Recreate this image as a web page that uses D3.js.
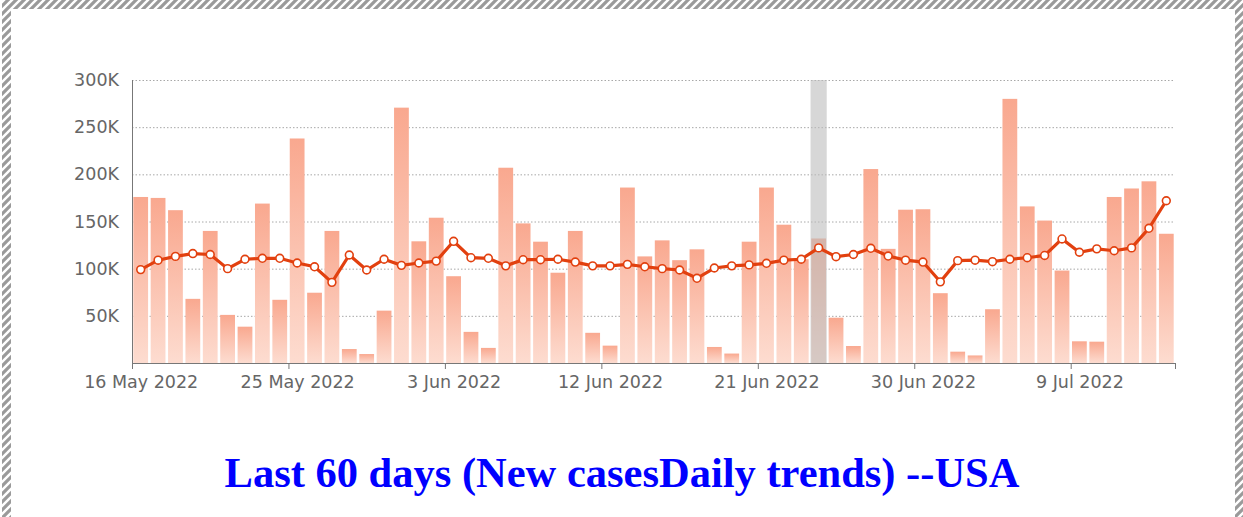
<!DOCTYPE html>
<html>
<head>
<meta charset="utf-8">
<script src="https://cdn.jsdelivr.net/npm/d3@7"></script>
<style>
  body { margin: 0; background: #fff; }
  svg { display: block; }
</style>
</head>
<body>
<svg id="chart" width="1243" height="517"></svg>
<script>
// 60 days, 16 May 2022 .. 14 Jul 2022
const startDay = new Date(2022, 4, 16);
const newCases = [
  176000, 175000, 162000, 68000, 140000, 51000, 38500, 169000, 67000, 238000,
  74500, 140000, 14800, 9500, 55500, 270700, 129000, 154000, 92000, 33000,
  16000, 207000, 148000, 128600, 95700, 140000, 32000, 18400, 186000, 113000,
  130000, 109000, 120500, 17000, 10000, 128600, 186000, 146600, 110000, 132000,
  48000, 18000, 205600, 121000, 162500, 163000, 74000, 12000, 8000, 57000,
  280000, 166000, 151000, 98000, 23000, 22600, 176000, 185000, 192600, 137000
];
const avgCases = [
  99000, 109000, 113000, 116000, 115000, 100000, 110000, 111000, 111000, 106000,
  102000, 85500, 114500, 98600, 110000, 103500, 106000, 108000, 129000, 111600,
  111000, 103000, 109500, 109500, 110000, 107000, 103000, 103000, 104600, 102000,
  100000, 98600, 89800, 100700, 103000, 104000, 105700, 109000, 110000, 122000,
  112700, 115000, 121600, 113400, 109000, 107000, 86000, 108500, 109000, 107400,
  110000, 111600, 114000, 131500, 117400, 121000, 119000, 122000, 142800, 172000
];
const highlightIndex = 39;
const yTicks = [50000, 100000, 150000, 200000, 250000, 300000];
const yTickLabels = ["50K", "100K", "150K", "200K", "250K", "300K"];
const xTickLabels = ["16 May 2022", "25 May 2022", "3 Jun 2022", "12 Jun 2022",
                     "21 Jun 2022", "30 Jun 2022", "9 Jul 2022"];
const title = "Last 60 days (New casesDaily trends) --USA";

const days = newCases.map((d, i) => d3.timeDay.offset(startDay, i));
const endDay = d3.timeDay.offset(startDay, newCases.length);
const xTickDates = xTickLabels.map((d, i) => d3.timeDay.offset(startDay, i * 9));

const svg = d3.select("#chart");
const defs = svg.append("defs");

// hatched frame pattern
const hatch = defs.append("pattern").attr("id", "hatch")
  .attr("patternUnits", "userSpaceOnUse").attr("width", 8).attr("height", 8);
hatch.append("rect").attr("width", 8).attr("height", 8).attr("fill", "#fff");
hatch.append("path").attr("d", "M-2,10 L10,-2 M-2,2 L2,-2 M6,10 L10,6")
  .attr("stroke", "#9a9a9a").attr("stroke-width", 3.2);

const grad = defs.append("linearGradient").attr("id", "barGrad")
  .attr("x1", 0).attr("y1", 0).attr("x2", 0).attr("y2", 1);
grad.append("stop").attr("offset", "0%").attr("stop-color", "#f9a88f");
grad.append("stop").attr("offset", "100%").attr("stop-color", "#fddcd0");

const x = d3.scaleTime().domain([startDay, endDay]).range([132, 1175]);
const y = d3.scaleLinear().domain([0, 300000]).range([363, 80]);
const band = x(days[1]) - x(days[0]);

// grid
svg.append("g").selectAll("line").data(yTicks).join("line")
  .attr("x1", 132).attr("x2", 1175)
  .attr("y1", d => y(d) + 0.5).attr("y2", d => y(d) + 0.5)
  .attr("stroke", "#a8a8a8").attr("stroke-dasharray", "1.5,2");

// bars
svg.append("g").selectAll("rect").data(newCases).join("rect")
  .attr("x", (d, i) => x(days[i]) + 1.3)
  .attr("width", band - 2.6)
  .attr("y", d => y(d))
  .attr("height", d => y(0) - y(d))
  .attr("fill", "url(#barGrad)");

// highlighted day
svg.append("rect")
  .attr("x", x(days[highlightIndex]) + 0.6)
  .attr("width", band - 1.2)
  .attr("y", y(300000))
  .attr("height", y(0) - y(300000))
  .attr("fill", "#bdbdbd").attr("opacity", 0.6);

// y axis
const yAxis = svg.append("g").attr("transform", "translate(132,0)")
  .call(d3.axisLeft(y).tickValues(yTicks).tickSize(0)
    .tickFormat((d, i) => yTickLabels[i]));
yAxis.select(".domain").attr("stroke", "#777").attr("d", "M0.5,80V363");
yAxis.selectAll("text").attr("x", -13)
  .attr("font-family", "'DejaVu Sans', sans-serif").attr("font-size", 17.5)
  .attr("fill", "#666");

// x axis
const xAxis = svg.append("g").attr("transform", "translate(0,363)")
  .call(d3.axisBottom(x).tickValues(xTickDates.concat([endDay])).tickSize(6)
    .tickFormat((d, i) => xTickLabels[i] || ""));
xAxis.select(".domain").attr("stroke", "#777").attr("d", "M132,0.5H1175.5");
xAxis.selectAll(".tick line").attr("stroke", "#777");
xAxis.selectAll("text").attr("x", band / 2).attr("y", 13)
  .attr("font-family", "'DejaVu Sans', sans-serif").attr("font-size", 17.5)
  .attr("fill", "#666");

// 7-day average line
const line = d3.line()
  .x((d, i) => x(days[i]) + band / 2)
  .y(d => y(d));
svg.append("path").datum(avgCases)
  .attr("d", line).attr("fill", "none")
  .attr("stroke", "#e2400f").attr("stroke-width", 3.2);
svg.append("g").selectAll("circle").data(avgCases).join("circle")
  .attr("cx", (d, i) => x(days[i]) + band / 2)
  .attr("cy", d => y(d))
  .attr("r", 3.9)
  .attr("fill", "#fff").attr("stroke", "#e2400f").attr("stroke-width", 1.6);

// title
svg.append("text").attr("x", 622).attr("y", 487)
  .attr("text-anchor", "middle")
  .attr("font-family", "'Liberation Serif', 'Times New Roman', serif")
  .attr("font-weight", "bold").attr("font-size", 42.5)
  .attr("fill", "#0000ff")
  .text(title);

// hatched frame
svg.append("rect").attr("x", 2).attr("y", 0).attr("width", 1241).attr("height", 9).attr("fill", "url(#hatch)");
svg.append("rect").attr("x", 2).attr("y", 0).attr("width", 9).attr("height", 517).attr("fill", "url(#hatch)");
svg.append("rect").attr("x", 1235).attr("y", 0).attr("width", 8).attr("height", 517).attr("fill", "url(#hatch)");
</script>
</body>
</html>
